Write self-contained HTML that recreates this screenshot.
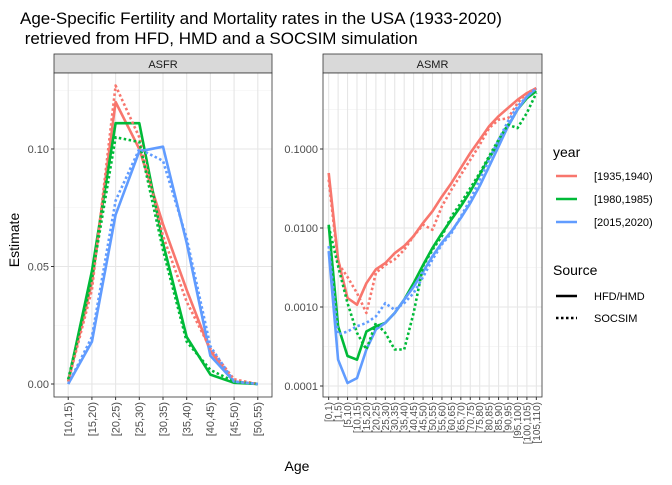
<!DOCTYPE html>
<html><head><meta charset="utf-8"><style>
body{margin:0;background:#fff;}
svg text{font-family:"Liberation Sans",sans-serif;}
</style></head><body>
<svg id="c" width="672" height="480" xmlns="http://www.w3.org/2000/svg">
<text x="20" y="24" font-size="17" fill="#000">Age-Specific Fertility and Mortality rates in the USA (1933-2020)</text>
<text x="20" y="44" font-size="17" fill="#000">&#160;retrieved from HFD, HMD and a SOCSIM simulation</text>
<text transform="translate(19,240) rotate(-90)" text-anchor="middle" font-size="14">Estimate</text>
<text x="297" y="471" text-anchor="middle" font-size="14">Age</text>
<g id="legend">
<text x="553" y="157" font-size="14">year</text>
<line x1="556" y1="176" x2="577" y2="176" stroke="#F8766D" stroke-width="2.5"/><text x="594" y="180" font-size="11">[1935,1940)</text>
<line x1="556" y1="199" x2="577" y2="199" stroke="#00BA38" stroke-width="2.5"/><text x="594" y="203" font-size="11">[1980,1985)</text>
<line x1="556" y1="222" x2="577" y2="222" stroke="#619CFF" stroke-width="2.5"/><text x="594" y="226" font-size="11">[2015,2020)</text>
<text x="553" y="275" font-size="14">Source</text>
<line x1="556" y1="296" x2="577" y2="296" stroke="#000" stroke-width="2.5"/><text x="594" y="300" font-size="11">HFD/HMD</text>
<line x1="556" y1="318" x2="577" y2="318" stroke="#000" stroke-width="2.5" stroke-dasharray="2.5,2.5"/><text x="594" y="322" font-size="11">SOCSIM</text>
</g>
</svg>
<script>
const asfrCats=["[10,15)","[15,20)","[20,25)","[25,30)","[30,35)","[35,40)","[40,45)","[45,50)","[50,55)"];
const asfrRedSolid=[0.001,0.043,0.120,0.100,0.068,0.040,0.014,0.001,0];
const asfrGreenSolid=[0.001,0.048,0.111,0.111,0.060,0.020,0.004,0.0005,0];
const asfrBlueSolid=[0.000,0.018,0.072,0.099,0.101,0.060,0.012,0.001,0];
const asfrRedDot=[0.001,0.040,0.127,0.105,0.063,0.035,0.015,0.002,0];
const asfrGreenDot=[0.002,0.045,0.105,0.103,0.057,0.018,0.006,0.001,0];
const asfrBlueDot=[0.000,0.020,0.078,0.100,0.095,0.062,0.016,0.001,0];
const asfrTicks=[0,0.05,0.10];
const asfrTickLabels=["0.00","0.05","0.10"];
const asmrCats=["[0,1)","[1,5)","[5,10)","[10,15)","[15,20)","[20,25)","[25,30)","[30,35)","[35,40)","[40,45)","[45,50)","[50,55)","[55,60)","[60,65)","[65,70)","[70,75)","[75,80)","[80,85)","[85,90)","[90,95)","[95,100)","[100,105)","[105,110)"];
const asmrRedSolid=[0.0497,0.0040,0.0013,0.00107,0.0020,0.0030,0.0036,0.0048,0.0059,0.0079,0.0116,0.0163,0.025,0.037,0.0575,0.089,0.131,0.194,0.26,0.33,0.42,0.51,0.59];
const asmrGreenSolid=[0.011,0.00057,0.00024,0.000215,0.00049,0.00057,0.00063,0.00084,0.00124,0.0020,0.0034,0.0056,0.0086,0.0128,0.0188,0.029,0.047,0.077,0.119,0.194,0.315,0.44,0.54];
const asmrBlueSolid=[0.0051,0.000215,0.000109,0.000126,0.00029,0.00052,0.00063,0.00084,0.00124,0.0018,0.0028,0.0044,0.0065,0.0091,0.0134,0.0207,0.034,0.060,0.108,0.194,0.315,0.46,0.59];
const asmrRedDot=[0.041,0.0036,0.0024,0.0015,0.00084,0.0027,0.0034,0.0040,0.0053,0.0079,0.011,0.0095,0.0188,0.0305,0.047,0.073,0.113,0.184,0.235,0.245,0.38,0.51,0.59];
const asmrGreenDot=[0.0105,0.0033,0.00112,0.00047,0.00029,0.00063,0.00047,0.00029,0.00029,0.00084,0.0033,0.0053,0.0079,0.014,0.0207,0.032,0.0497,0.081,0.131,0.203,0.184,0.286,0.51];
const asmrBlueDot=[0.0059,0.00045,0.00049,0.00057,0.00063,0.00076,0.00112,0.00092,0.00112,0.0015,0.0024,0.0040,0.0062,0.0086,0.014,0.0229,0.041,0.073,0.131,0.224,0.347,0.46,0.59];
const asmrTicks=[0.0001,0.001,0.01,0.1];
const asmrTickLabels=["0.0001","0.0010","0.0100","0.1000"];

const NS="http://www.w3.org/2000/svg";
const svg=document.getElementById('c');
function mk(tag,attrs,parent){const e=document.createElementNS(NS,tag);for(const k in attrs)e.setAttribute(k,attrs[k]);(parent||svg).appendChild(e);return e;}
const TOP=73,BOT=397;
const COLS={red:"#F8766D",green:"#00BA38",blue:"#619CFF"};

function panel(name,x0,x1,cats,yfn,ticks,labels,minors,series,catFont,tickFont){
  const g=mk('g',{});
  
  
  const strip=mk('rect',{x:x0,y:54,width:x1-x0,height:TOP-54,fill:'#d9d9d9',stroke:'#333','stroke-width':0.8},g);
  
  
  const st=mk('text',{x:(x0+x1)/2,y:68,'text-anchor':'middle','font-size':11,fill:'#1a1a1a'},g);
  st.textContent=name.toUpperCase();
  
  
  mk('rect',{x:x0,y:TOP,width:x1-x0,height:BOT-TOP,fill:'#fff'},g);
  const unit=(x1-x0)/(cats.length-1+1.2);
  const xf=i=>x0+(0.6+i)*unit;
  minors.forEach(v=>mk('line',{x1:x0,x2:x1,y1:yfn(v),y2:yfn(v),stroke:'#f0f0f0','stroke-width':0.6},g));
  ticks.forEach(v=>mk('line',{x1:x0,x2:x1,y1:yfn(v),y2:yfn(v),stroke:'#e6e6e6','stroke-width':1.1},g));
  cats.forEach((c,i)=>mk('line',{x1:xf(i),x2:xf(i),y1:TOP,y2:BOT,stroke:'#e6e6e6','stroke-width':1.1},g));
  series.forEach(s=>{
    const pts=s.vals.map((v,i)=>xf(i).toFixed(1)+','+yfn(v).toFixed(1)).join(' ');
    const p=mk('polyline',{points:pts,fill:'none',stroke:COLS[s.col],'stroke-width':2.6,'stroke-linejoin':'round','stroke-dasharray':s.dot?'2.5,2.5':'none'},g);
    
    
  });
  mk('rect',{x:x0,y:TOP,width:x1-x0,height:BOT-TOP,fill:'none',stroke:'#333','stroke-width':0.8},g);
  ticks.forEach((v,i)=>{
    mk('line',{x1:x0-3,x2:x0,y1:yfn(v),y2:yfn(v),stroke:'#333'},g);
    const t=mk('text',{x:x0-5,y:yfn(v)+4,'text-anchor':'end','font-size':tickFont,fill:'#4d4d4d'},g);
    t.textContent=labels[i];
    
    
  });
  cats.forEach((c,i)=>{
    mk('line',{x1:xf(i),x2:xf(i),y1:BOT,y2:BOT+3,stroke:'#333'},g);
    const t=mk('text',{transform:`translate(${xf(i)+catFont*0.35},${BOT+5}) rotate(-90)`,'text-anchor':'end','font-size':catFont,fill:'#4d4d4d'},g);
    t.textContent=c;
    
    
  });
}
const yA=v=>384-(v/0.05)*117.5;
const yM=v=>149-(Math.log10(v)+1)*79;
panel('asfr',54,272,asfrCats,yA,asfrTicks,asfrTickLabels,[0.025,0.075,0.125],[
 {vals:asfrRedSolid,col:'red'},{vals:asfrGreenSolid,col:'green'},{vals:asfrBlueSolid,col:'blue'},
 {vals:asfrRedDot,col:'red',dot:1},{vals:asfrGreenDot,col:'green',dot:1},{vals:asfrBlueDot,col:'blue',dot:1}],11,11);
panel('asmr',323,542,asmrCats,yM,asmrTicks,asmrTickLabels,[0.000316,0.00316,0.0316,0.316],[
 {vals:asmrRedSolid,col:'red'},{vals:asmrGreenSolid,col:'green'},{vals:asmrBlueSolid,col:'blue'},
 {vals:asmrRedDot,col:'red',dot:1},{vals:asmrGreenDot,col:'green',dot:1},{vals:asmrBlueDot,col:'blue',dot:1}],10,11);
</script>
</body></html>
